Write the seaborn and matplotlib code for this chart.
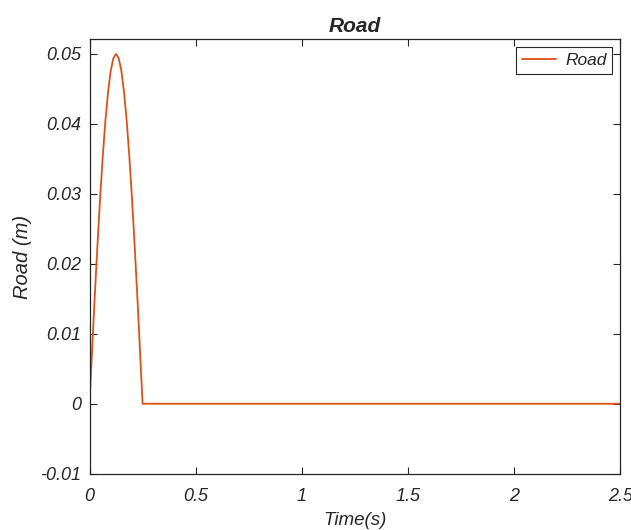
import matplotlib
matplotlib.use("Agg")
import matplotlib.pyplot as plt
import seaborn as sns
import pandas as pd

time_s = [0.0, 0.0125, 0.025, 0.0375, 0.05, 0.0625, 0.075, 0.0875, 0.1, 0.1125, 0.125,
          0.1375, 0.15, 0.1625, 0.175, 0.1875, 0.2, 0.2125, 0.225, 0.2375, 0.25, 2.5]
road_m = [0.0, 0.0078, 0.0155, 0.0227, 0.0294, 0.0354, 0.0405, 0.0446, 0.0476, 0.0494, 0.05,
          0.0494, 0.0476, 0.0446, 0.0405, 0.0354, 0.0294, 0.0227, 0.0155, 0.0078, 0.0, 0.0]
x_ticks = [0, 0.5, 1, 1.5, 2, 2.5]
x_tick_labels = ["0", "0.5", "1", "1.5", "2", "2.5"]
y_ticks = [-0.01, 0, 0.01, 0.02, 0.03, 0.04, 0.05]
y_tick_labels = ["-0.01", "0", "0.01", "0.02", "0.03", "0.04", "0.05"]

df = pd.DataFrame({"Time": time_s, "Road": road_m, "series": "Road"})

sns.set_theme(style="white")
plt.rcParams["font.family"] = ["Liberation Sans", "DejaVu Sans"]

fig = plt.figure(figsize=(6.31, 5.30), dpi=100)
ax = fig.add_axes([89.5/631, (530-473.7)/530, (620.3-89.5)/631, (473.7-39.3)/530])

sns.lineplot(data=df, x="Time", y="Road", hue="series", palette=["#D95319"],
             linewidth=1.3, ax=ax, legend=True)

ax.set_xlim(0, 2.5)
ax.set_ylim(-0.01, 0.0521)
ax.set_xticks(x_ticks)
ax.set_xticklabels(x_tick_labels, fontstyle="italic", fontsize=13, color="#262626")
ax.set_yticks(y_ticks)
ax.set_yticklabels(y_tick_labels, fontstyle="italic", fontsize=13, color="#262626")
ax.tick_params(direction="in", length=5, width=0.8, top=True, right=True,
               bottom=True, left=True, labeltop=False, labelright=False,
               colors="#262626", labelcolor="#262626")
ax.tick_params(axis="x", pad=10)
ax.tick_params(axis="y", pad=6)
for s in ax.spines.values():
    s.set_color("#262626")
    s.set_linewidth(0.9)
    s.set_visible(True)

ax.set_xlabel("Time(s)", fontstyle="italic", fontsize=13.5, color="#262626", labelpad=5)
ax.set_ylabel("Road (m)", fontstyle="italic", fontsize=14.5, color="#262626", labelpad=6)
ax.set_title("Road", fontstyle="italic", fontweight="bold", fontsize=15, pad=5)

handles, labels = ax.get_legend_handles_labels()
leg = ax.legend(handles, labels, loc="upper right", fancybox=False, framealpha=1,
                edgecolor="#262626", prop={"style": "italic", "size": 12.5},
                handlelength=2.0, borderaxespad=0.45, borderpad=0.35, handletextpad=0.5)
leg.get_frame().set_linewidth(0.8)

fig.savefig("out.png", dpi=100)
